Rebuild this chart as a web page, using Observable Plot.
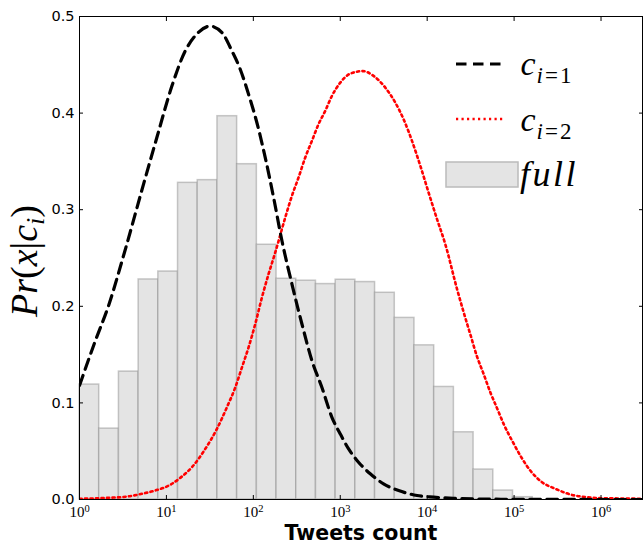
<!DOCTYPE html>
<html><head><meta charset="utf-8">
<script src="https://cdn.jsdelivr.net/npm/d3@7"></script>
<script src="https://cdn.jsdelivr.net/npm/@observablehq/plot@0.6"></script>
<style>body{margin:0;background:#fff} #chart{width:644px;height:546px}</style>
</head><body><div id="chart"></div>
<script>
// histogram "full": bins of equal width in log10(x), starting at 10^0
const binLogWidth = 0.2267;
const fullHeights = [0.119, 0.0734, 0.1324, 0.2278, 0.236, 0.3278, 0.3306, 0.3968, 0.3471, 0.2637,
  0.2285, 0.2265, 0.223, 0.2275, 0.2251, 0.214, 0.188, 0.1596, 0.1165, 0.0696, 0.031, 0.0093, 0.0024];

// curve c_{i=1} (black dashed): log10(tweets) and Pr
const c1LogX = [0, 0.181, 0.334, 0.518, 0.737, 0.89, 1.063, 1.216, 1.331, 1.504, 1.639, 1.754, 1.849, 1.945,
  2.041, 2.137, 2.233, 2.329, 2.444, 2.559, 2.674, 2.789, 2.904, 3.0, 3.096, 3.21, 3.345, 3.498, 3.671,
  3.883, 4.074, 4.3, 4.6, 5.0, 5.5, 6.0, 6.47];
const c1Pr = [0.118, 0.164, 0.2006, 0.256, 0.3265, 0.3747, 0.428, 0.4643, 0.48, 0.49, 0.4833, 0.4643, 0.4454, 0.4195,
  0.390, 0.354, 0.3126, 0.2678, 0.223, 0.1817, 0.1437, 0.116, 0.0851, 0.0679, 0.0524, 0.0386, 0.0266, 0.0162, 0.0093,
  0.0041, 0.0024, 0.0012, 0.0005, 0.0002, 0.0001, 0, 0];

// curve c_{i=2} (red dotted)
const c2LogX = [0, 0.334, 0.545, 0.718, 0.871, 1.044, 1.159, 1.293, 1.447, 1.581, 1.696, 1.792, 1.869, 1.945,
  2.022, 2.099, 2.175, 2.252, 2.367, 2.444, 2.52, 2.597, 2.674, 2.75, 2.827, 2.904, 3.0, 3.115, 3.261, 3.383,
  3.518, 3.633, 3.728, 3.825, 3.921, 4.016, 4.113, 4.208, 4.343, 4.419, 4.496, 4.573, 4.649, 4.726, 4.807,
  4.879, 4.976, 5.071, 5.186, 5.321, 5.474, 5.647, 5.839, 6.03, 6.299, 6.47];
const c2Pr = [0.0007, 0.0018, 0.003, 0.0059, 0.0093, 0.0152, 0.0224, 0.0334, 0.0524, 0.0731, 0.0955, 0.116, 0.1368, 0.1575,
  0.1817, 0.2092, 0.2334, 0.2557, 0.2919, 0.3144, 0.3333, 0.354, 0.3713, 0.3885, 0.4023, 0.4178, 0.4315, 0.4408, 0.4435, 0.4385,
  0.4264, 0.4109, 0.3937, 0.3713, 0.3454, 0.3178, 0.2903, 0.2644, 0.218, 0.194, 0.171, 0.148, 0.13, 0.111, 0.0938,
  0.0783, 0.061, 0.0455, 0.03, 0.0179, 0.0111, 0.0052, 0.0024, 0.0013, 0.001, 0.0007];

const xTicks = [1, 10, 100, 1e3, 1e4, 1e5, 1e6];
const yTicks = [0, 0.1, 0.2, 0.3, 0.4, 0.5];
const xLabel = "Tweets count";

const bars = fullHeights.map((h, i) => ({x1: 10 ** (i * binLogWidth), x2: 10 ** ((i + 1) * binLogWidth), h}));
const c1 = c1LogX.map((l, i) => ({x: 10 ** l, y: c1Pr[i]}));
const c2 = c2LogX.map((l, i) => ({x: 10 ** l, y: c2Pr[i]}));

const svg = Plot.plot({
  width: 644, height: 546,
  marginLeft: 79, marginRight: 2, marginTop: 16, marginBottom: 47,
  style: {background: "white", color: "black"},
  x: {type: "log", domain: [1, 3e6]},
  y: {domain: [0, 0.5]},
  marks: [
    Plot.rectY(bars, {x1: "x1", x2: "x2", y: "h", fill: "#e4e4e4", stroke: "#888", strokeOpacity: 0.45, strokeWidth: 1.5}),
    Plot.line(c2, {x: "x", y: "y", stroke: "red", strokeWidth: 2.6, strokeDasharray: "2.2,3.3", curve: "monotone-x", clip: true}),
    Plot.line(c1, {x: "x", y: "y", stroke: "black", strokeWidth: 3.2, strokeDasharray: "10.5,6.5", curve: "monotone-x", clip: true}),
    Plot.frame({stroke: "black", strokeWidth: 1}),
    Plot.axisX({ticks: xTicks, tickSize: -4, tickPadding: 11, label: null,
      tickFormat: d => String(Math.round(Math.log10(d))),
      fontFamily: "Liberation Serif", fontSize: 15}),
    Plot.axisX({anchor: "top", ticks: xTicks, tickSize: -4, label: null, tickFormat: () => ""}),
    Plot.axisY({ticks: yTicks, tickSize: -4, tickPadding: 9, label: null,
      tickFormat: d3.format(".1f"), fontFamily: "DejaVu Sans", fontSize: 14.5}),
    Plot.axisY({anchor: "right", ticks: yTicks, tickSize: -4, label: null, tickFormat: () => ""})
  ]
});
document.getElementById("chart").appendChild(svg);

const s = d3.select(svg);
// x tick labels as 10^k with superscript
s.selectAll('g[aria-label="x-axis tick label"] text').each(function() {
  const t = d3.select(this);
  const k = t.text();
  if (!k) return;
  t.text("10");
  t.append("tspan").attr("dy", "-0.45em").attr("font-size", "10.5px").text(k);
});

// y label Pr(x|c_i)
const yl = s.append("text")
  .attr("transform", "translate(37,261) rotate(-90)")
  .attr("text-anchor", "middle")
  .attr("font-family", "Liberation Serif").attr("font-size", 38).attr("font-style", "italic").attr("fill", "black");
yl.append("tspan").text("Pr");
yl.append("tspan").attr("font-style", "normal").text("(");
yl.append("tspan").text("x");
yl.append("tspan").attr("font-style", "normal").text("|");
yl.append("tspan").text("c");
yl.append("tspan").attr("font-size", 26).attr("dy", 7).text("i");
yl.append("tspan").attr("font-style", "normal").attr("dy", -7).text(")");

// x label
s.append("text").attr("x", 361).attr("y", 540).attr("text-anchor", "middle")
  .attr("font-family", "DejaVu Sans").attr("font-weight", "bold").attr("font-size", 20.5).attr("fill", "black")
  .text(xLabel);

// legend
const lg = s.append("g");
lg.append("line").attr("x1", 456).attr("x2", 501).attr("y1", 64).attr("y2", 64)
  .attr("stroke", "black").attr("stroke-width", 3.2).attr("stroke-dasharray", "10.5,6.5");
lg.append("line").attr("x1", 456).attr("x2", 505).attr("y1", 119).attr("y2", 119)
  .attr("stroke", "red").attr("stroke-width", 2.6).attr("stroke-dasharray", "2.2,3.3");
lg.append("rect").attr("x", 446).attr("y", 162).attr("width", 72).attr("height", 25)
  .attr("fill", "#e4e4e4").attr("stroke", "#bbb").attr("stroke-width", 1.5);
function cLabel(y, n) {
  const t = lg.append("text").attr("x", 546).attr("y", y)
    .attr("font-family", "Liberation Serif").attr("font-size", 34).attr("font-style", "italic").attr("fill", "black");
  t.append("tspan").text("c");
  t.append("tspan").attr("font-size", 23).attr("dy", 8).attr("dx", 1).text("i");
  t.append("tspan").attr("font-size", 23).attr("font-style", "normal").attr("dx", 2).text("=");
  t.append("tspan").attr("font-size", 23).attr("font-style", "normal").attr("dx", 2).text(n);
}
cLabel(75, "1");
cLabel(130.5, "2");
lg.append("text").attr("x", 549).attr("y", 186).attr("font-family", "Liberation Serif").attr("font-size", 36)
  .attr("font-style", "italic").attr("letter-spacing", 2.5).attr("fill", "black").text("full");
</script>
</body></html>
